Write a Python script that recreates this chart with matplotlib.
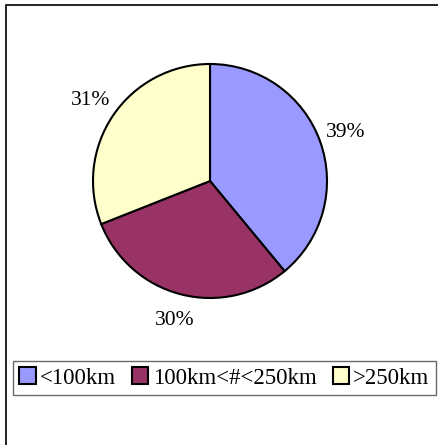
import matplotlib
matplotlib.use("Agg")
import matplotlib.pyplot as plt
from matplotlib.patches import Rectangle, Patch

plt.rcParams['font.family'] = ['Liberation Serif', 'DejaVu Serif']

labels = ['<100km', '100km<#<250km', '>250km']
shares = [39, 30, 31]
colors = ['#9999FF', '#993366', '#FFFFCC']

W, H = 438, 445
fig = plt.figure(figsize=(W / 100, H / 100), dpi=100)

# outer chart border (cut off at right/bottom like the original)
fig.patches.append(Rectangle((6 / W, -0.05), 1.0, 1 - 5 / H + 0.05,
                             transform=fig.transFigure, fill=False,
                             edgecolor='black', linewidth=1.2, clip_on=False))

cx, cy, r = 210, 181, 117
ax = fig.add_axes([(cx - r) / W, (H - cy - r) / H, 2 * r / W, 2 * r / H])
wedges, texts, autotexts = ax.pie(shares, colors=colors, startangle=90, counterclock=False,
                                  autopct='%1.0f%%', pctdistance=1.23,
                                  wedgeprops=dict(edgecolor='black', linewidth=1.5),
                                  textprops=dict(fontsize=15.5))
ax.set_xlim(-1, 1)
ax.set_ylim(-1, 1)
ax.set_aspect('equal')

handles = [Patch(facecolor=c, edgecolor='black', linewidth=1.5) for c in colors]
leg = fig.legend(handles, labels, loc='center',
                 bbox_to_anchor=((14 + 435) / 2 / W, 1 - 378 / H),
                 ncol=3, fontsize=16.5, frameon=True, fancybox=False,
                 handlelength=0.7, handleheight=0.7, handletextpad=0.2,
                 columnspacing=0.7, borderpad=0.3, borderaxespad=0)
leg.get_frame().set_edgecolor('#444444')
leg.get_frame().set_linewidth(1.0)

fig.savefig('out.png', dpi=100)
